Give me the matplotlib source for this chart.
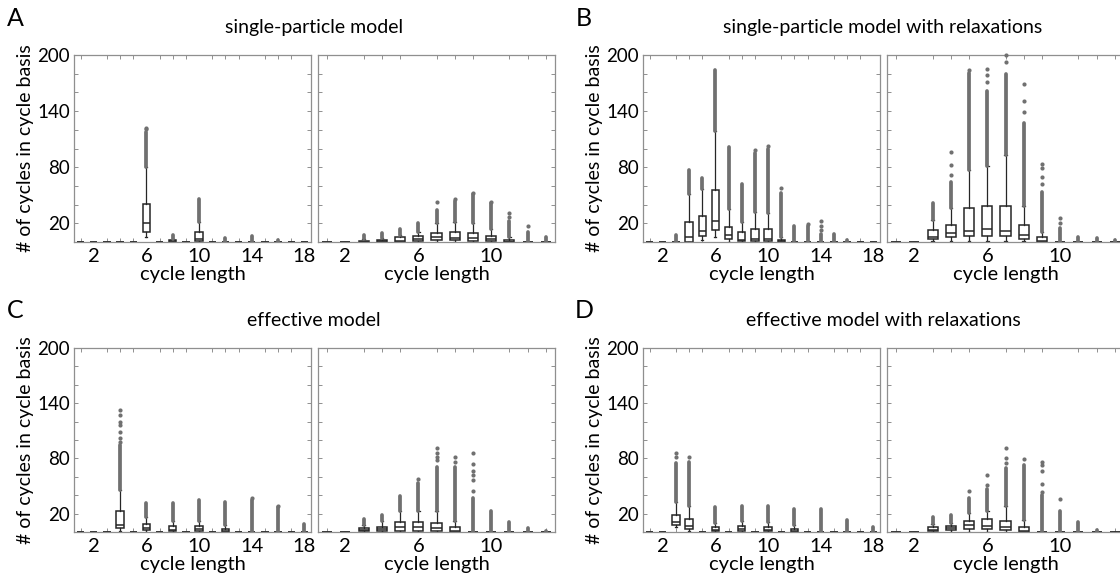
import matplotlib
matplotlib.use('Agg')
import matplotlib.pyplot as plt
from matplotlib.ticker import MultipleLocator, FixedLocator

plt.rcParams['font.family'] = ['Lato', 'DejaVu Sans']

# box statistics (cycle lengths 1..18 left, 1..13 right)
# q1 / median / q3 / whisker low / whisker high / top of the dense outlier column
a_left_q1 = [0, 0, 0, 0, 0, 11, 0, 0, 0, 1, 0, 0, 0, 0, 0, 0, 0, 0]
a_left_med = [0, 0, 0, 0, 0, 20.5, 0, 1, 0, 3.5, 0, 0, 0, 0, 0, 0, 0, 0]
a_left_q3 = [0, 0, 0, 0, 0, 40.5, 0, 2.5, 0, 10.5, 0, 0, 0, 0, 0, 0, 0, 0]
a_left_wlo = [0, 0, 0, 0, 0, 5.5, 0, 0, 0, 0, 0, 0, 0, 0, 0, 0, 0, 0]
a_left_whi = [0, 0, 0, 0, 0, 80, 0, 3.5, 0, 21, 0, 0, 0, 0, 0, 0, 0, 0]
a_left_fhi = [0, 0, 0, 0, 0, 118, 0, 7, 0, 46, 0, 4.5, 0, 6, 0, 2, 0, 0]
a_left_out = [(6, 120.5), (6, 122)]

a_right_q1 = [0, 0, 0, 0, 0, 1, 2, 2, 1.5, 0.7, 0, 0, 0]
a_right_med = [0, 0, 0.5, 1, 1.5, 3.2, 5, 4.6, 4.6, 3, 0.5, 0, 0]
a_right_q3 = [0, 0, 1.5, 2.5, 5.5, 6.5, 9.3, 10.3, 9.6, 6.8, 2, 0, 0]
a_right_wlo = [0, 0, 0, 0, 0, 0, 0, 0, 0, 0, 0, 0, 0]
a_right_whi = [0, 0, 3, 4, 8, 11, 20, 21.5, 20.5, 14, 5, 0, 0]
a_right_fhi = [0, 0, 8, 10, 13.5, 20.5, 34, 44, 51, 42, 22, 11, 5.5]
a_right_out = [(7, 43), (8, 45.5), (9, 52.5), (10, 42.5), (11, 26.5), (11, 31.5), (12, 17)]

b_left_q1 = [0, 0, 0, 0.5, 6.5, 12.8, 3, 1, 1, 1, 0, 0, 0, 0, 0, 0, 0, 0]
b_left_med = [0, 0, 0, 5, 12, 22.5, 7, 2, 3.2, 3.6, 1, 0, 0, 0, 0, 0, 0, 0]
b_left_q3 = [0, 0, 0, 21, 28, 56, 16.5, 11, 14.3, 13.5, 2.5, 0, 0, 0, 0, 0, 0, 0]
b_left_wlo = [0, 0, 0, 0, 2, 5.5, 0.5, 0, 0, 0, 0, 0, 0, 0, 0, 0, 0, 0]
b_left_whi = [0, 0, 0, 51, 56.5, 119, 35, 21.5, 32, 31, 5, 1, 1, 0.5, 0.5, 0, 0, 0]
b_left_fhi = [0, 0, 7.5, 77.5, 68, 184, 102, 62.5, 95, 100, 52, 17.5, 17, 9, 8.5, 2, 0, 0]
b_left_out = [(9, 98), (10, 102.5), (11, 58), (13, 19), (14, 13), (14, 17.5), (14, 22)]

b_right_q1 = [0, 0, 3, 5, 6.5, 6.8, 6.4, 3.2, 0, 0, 0, 0, 0]
b_right_med = [0, 0, 5.7, 9.3, 11.8, 13.5, 12, 7.5, 1.5, 0, 0, 0, 0]
b_right_q3 = [0, 0, 12.8, 18, 36, 38.5, 38.5, 18, 5, 0, 0, 0, 0]
b_right_wlo = [0, 0, 1, 1, 1, 1, 1, 1, 0, 0, 0, 0, 0]
b_right_whi = [0, 0, 23.5, 36, 77.5, 81, 93, 39, 11, 0, 0, 0, 0]
b_right_fhi = [0.5, 0.5, 42, 64.5, 181, 162, 180, 127, 54, 14.5, 5.5, 4, 2]
b_right_out = [(4, 71.5), (4, 82.5), (4, 96.5), (5, 183.5), (6, 171.5), (6, 178.5), (6, 185.5),
               (7, 193), (7, 199.5), (8, 139), (8, 151), (8, 168.5), (9, 62.5), (9, 69),
               (9, 79), (9, 83.5), (10, 20), (10, 25.5)]

c_left_q1 = [0, 0, 0, 4.3, 0, 2.5, 0, 0.7, 0, 1.4, 0, 0, 0, 0, 0, 0, 0, 0]
c_left_med = [0, 0, 0, 8, 0, 4.3, 0, 2.5, 0, 3.6, 0, 1, 0, 0, 0, 0, 0, 0]
c_left_q3 = [0, 0, 0, 22.4, 0, 8.7, 0, 6, 0, 6.9, 0, 3.6, 0, 0, 0, 0, 0, 0]
c_left_wlo = [0, 0, 0, 1.5, 0, 0.5, 0, 0, 0, 0, 0, 0, 0, 0, 0, 0, 0, 0]
c_left_whi = [0, 0, 0, 46, 0, 16, 0, 11.6, 0, 11.6, 0, 8, 0, 0, 0, 0, 0, 0]
c_left_fhi = [0, 0, 0, 94.5, 0, 31.5, 0, 31.5, 0, 35, 0, 33, 0, 35, 0, 27, 0, 9]
c_left_out = [(4, 98), (4, 102), (4, 109), (4, 116), (4, 120), (4, 127), (4, 132.5),
              (14, 37), (16, 28)]

c_right_q1 = [0, 0, 0.7, 1.4, 1.4, 1, 0.7, 0, 0, 0, 0, 0, 0]
c_right_med = [0, 0, 2, 3.6, 5, 5, 4.3, 1.5, 0, 0, 0, 0, 0]
c_right_q3 = [0, 0, 4.3, 5.8, 10.5, 10.8, 9.8, 5, 0, 0, 0, 0, 0]
c_right_wlo = [0, 0, 0, 0, 0, 0, 0, 0, 0, 0, 0, 0, 0]
c_right_whi = [0, 0, 8, 11.6, 22.4, 22.4, 22.4, 11.6, 0, 0, 0, 0, 0]
c_right_fhi = [0, 0, 14, 18.8, 39.5, 53, 71, 71, 37, 23, 10.5, 4.3, 1.4]
c_right_out = [(6, 58), (7, 78.5), (7, 82), (7, 85.5), (7, 91), (8, 76.5), (8, 81),
               (9, 45), (9, 56), (9, 62), (9, 66.5), (9, 73.5), (9, 85.5)]

d_left_q1 = [0, 0, 8, 3.6, 0, 0.7, 0, 1.4, 0, 0.7, 0, 0, 0, 0, 0, 0, 0, 0]
d_left_med = [0, 0, 10.5, 6, 0, 2.5, 0, 3.6, 0, 2.5, 0, 1, 0, 0, 0, 0, 0, 0]
d_left_q3 = [0, 0, 18.8, 14, 0, 5.8, 0, 6.1, 0, 5, 0, 3.6, 0, 0, 0, 0, 0, 0]
d_left_wlo = [0, 0, 5, 1, 0, 0, 0, 0, 0, 0, 0, 0, 0, 0, 0, 0, 0, 0]
d_left_whi = [0, 0, 33, 27.8, 0, 9.8, 0, 11.6, 0, 10.5, 0, 7.2, 0, 0, 0, 0, 0, 0]
d_left_fhi = [0, 0, 75, 76.5, 0, 26.7, 0, 27.8, 0, 27.8, 0, 25.3, 0, 25.3, 0, 13.4, 0, 5]
d_left_out = [(3, 82), (3, 85.5), (4, 81)]

d_right_q1 = [0, 0, 0.7, 2.2, 3.6, 3.3, 2.5, 0, 0, 0, 0, 0, 0]
d_right_med = [0, 0, 2.5, 4.5, 7.2, 6.1, 5, 1, 0, 0, 0, 0, 0]
d_right_q3 = [0, 0, 5.4, 6.9, 12.3, 14, 11.6, 5.8, 0, 0, 0, 0, 0]
d_right_wlo = [0, 0, 0, 0.5, 0.5, 0.5, 0.5, 0, 0, 0, 0, 0, 0]
d_right_whi = [0, 0, 8.7, 9.8, 20.6, 22.4, 27.8, 13.4, 0, 0, 0, 0, 0]
d_right_fhi = [0, 0, 16, 18.8, 37, 47, 69.5, 73, 40.5, 22.4, 10.8, 2.5, 0]
d_right_out = [(5, 44.8), (6, 51.3), (6, 62), (7, 75), (7, 80), (7, 91), (8, 79.5),
               (9, 44), (9, 52), (9, 66), (9, 73), (9, 76.5), (10, 35.8)]

left_xticks = [2, 6, 10, 14, 18]
right_xticks = [2, 6, 10]
yticks = [20, 80, 140, 200]

titles = ['single-particle model', 'single-particle model with relaxations',
          'effective model', 'effective model with relaxations']
letters = ['A', 'B', 'C', 'D']

BOX = '#262626'
FLY = '#707070'
SPINE = '#8f8f8f'
FS = 14.5


def draw(ax, q1, med, q3, wlo, whi, fhi, out, xticks, first):
    n = len(q1)
    pos = list(range(1, n + 1))
    stats = [dict(q1=q1[i], med=med[i], q3=q3[i], whislo=wlo[i], whishi=whi[i], fliers=[])
             for i in range(n)]
    ax.bxp(stats, positions=pos, widths=0.55, capwidths=0.14, showfliers=False,
           patch_artist=True, manage_ticks=False,
           boxprops=dict(facecolor='white', edgecolor=BOX, lw=1.1),
           medianprops=dict(color=BOX, lw=1.1),
           whiskerprops=dict(color=BOX, lw=0.9),
           capprops=dict(color=BOX, lw=0.9), zorder=2)
    # dense outlier columns, drawn over the whisker ends
    for i in range(n):
        if fhi[i] > whi[i]:
            ax.plot([pos[i], pos[i]], [whi[i], fhi[i]], color=FLY, lw=2.7,
                    solid_capstyle='round', zorder=3)
    if out:
        ax.plot([p for p, v in out], [v for p, v in out], 'o', ms=3, color=FLY,
                mec='none', zorder=3, clip_on=False)
    ax.set_xlim(0.5, n + 0.5)
    ax.set_ylim(0, 200)
    ax.xaxis.set_major_locator(FixedLocator(xticks))
    ax.xaxis.set_minor_locator(MultipleLocator(1))
    ax.yaxis.set_major_locator(FixedLocator(yticks))
    ax.yaxis.set_minor_locator(MultipleLocator(20))
    ax.tick_params(which='both', direction='in', top=True, right=True, color=SPINE,
                   length=3, width=0.7, labelsize=FS, pad=3)
    ax.tick_params(axis='y', labelsize=13.5)
    ax.tick_params(axis='x', which='major', length=0, pad=4)
    ax.tick_params(axis='x', which='minor', length=3)
    for s in ax.spines.values():
        s.set_color(SPINE)
        s.set_linewidth(0.9)
    ax.set_xlabel('cycle length', fontsize=FS, labelpad=1)
    if first:
        ax.set_ylabel('# of cycles in cycle basis', fontsize=14)
        ax.yaxis.set_label_coords(-0.168, 0.5)
    else:
        ax.tick_params(axis='y', labelleft=False)


fig = plt.figure(figsize=(11.2, 5.84), dpi=100)

W, H = 1120, 584
panels = [
    # left px, top px, bottom px
    (74, 55, 242),
    (643, 55, 242),
    (74, 348, 532),
    (643, 348, 532),
]
data = [
    ((a_left_q1, a_left_med, a_left_q3, a_left_wlo, a_left_whi, a_left_fhi, a_left_out),
     (a_right_q1, a_right_med, a_right_q3, a_right_wlo, a_right_whi, a_right_fhi, a_right_out)),
    ((b_left_q1, b_left_med, b_left_q3, b_left_wlo, b_left_whi, b_left_fhi, b_left_out),
     (b_right_q1, b_right_med, b_right_q3, b_right_wlo, b_right_whi, b_right_fhi, b_right_out)),
    ((c_left_q1, c_left_med, c_left_q3, c_left_wlo, c_left_whi, c_left_fhi, c_left_out),
     (c_right_q1, c_right_med, c_right_q3, c_right_wlo, c_right_whi, c_right_fhi, c_right_out)),
    ((d_left_q1, d_left_med, d_left_q3, d_left_wlo, d_left_whi, d_left_fhi, d_left_out),
     (d_right_q1, d_right_med, d_right_q3, d_right_wlo, d_right_whi, d_right_fhi, d_right_out)),
]

for k, ((x0, top, bot), (left, right)) in enumerate(zip(panels, data)):
    h = (bot - top) / H
    b = 1 - bot / H
    axl = fig.add_axes([x0 / W, b, 237 / W, h])
    axr = fig.add_axes([(x0 + 244) / W, b, 237 / W, h])
    draw(axl, *left, left_xticks, True)
    draw(axr, *right, right_xticks, False)
    cx = (x0 + 240) / W
    fig.text(cx, 1 - (top - 27) / H, titles[k], ha='center', va='center', fontsize=14)
    fig.text((x0 - 59) / W, 1 - (top - 37) / H, letters[k], ha='center', va='center',
             fontsize=18)

fig.savefig('out.png', dpi=100)
